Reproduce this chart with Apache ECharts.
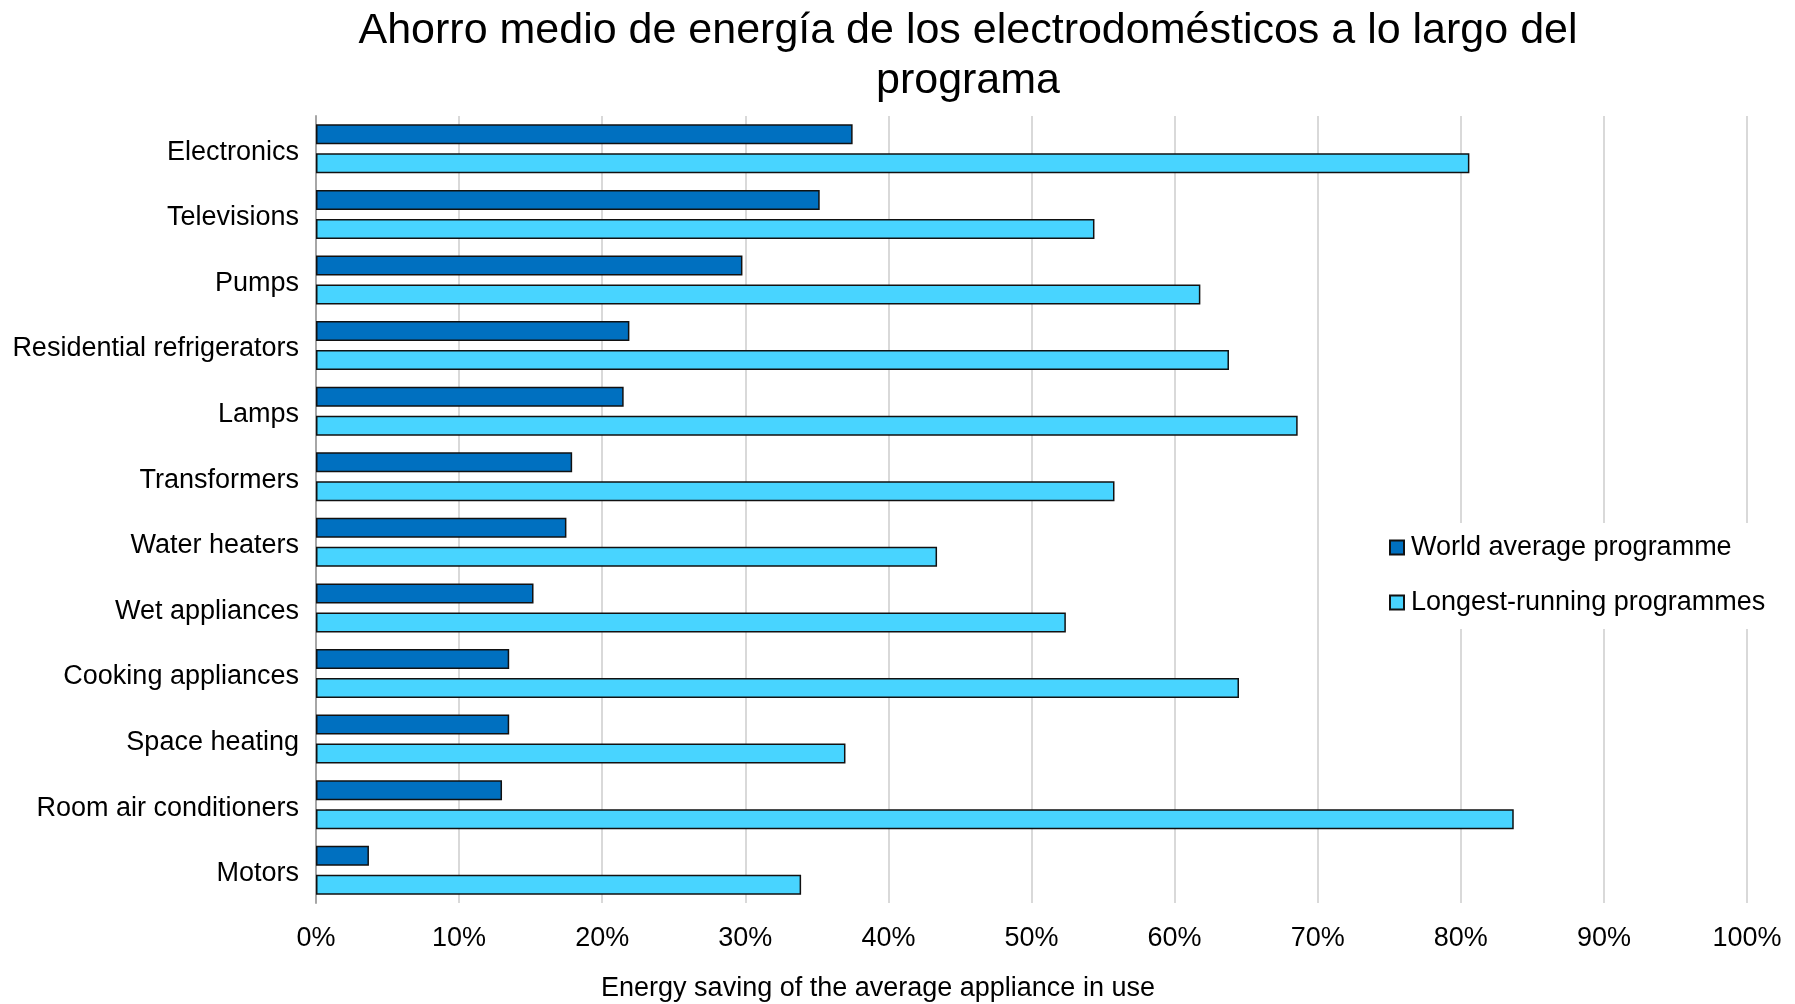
<!DOCTYPE html>
<html>
<head>
<meta charset="utf-8">
<script src="https://cdn.jsdelivr.net/npm/echarts@6/dist/echarts.min.js"></script>
<style>
  html, body { margin: 0; padding: 0; background: #fff; }
  #chart { width: 1795px; height: 1004px; }
</style>
</head>
<body>
<div id="chart"></div>
<script>
// Appliance categories, listed top to bottom
const categories = [
  'Electronics', 'Televisions', 'Pumps', 'Residential refrigerators', 'Lamps',
  'Transformers', 'Water heaters', 'Wet appliances', 'Cooking appliances',
  'Space heating', 'Room air conditioners', 'Motors'
];
// Average energy saving (%) per category
const worldAverage = [37.5, 35.2, 29.8, 21.9, 21.5, 17.9, 17.5, 15.2, 13.5, 13.5, 13.0, 3.7];
const longestRunning = [80.6, 54.4, 61.8, 63.8, 68.6, 55.8, 43.4, 52.4, 64.5, 37.0, 83.7, 33.9];
const seriesNames = ['World average programme', 'Longest-running programmes'];
const xTicks = [0, 10, 20, 30, 40, 50, 60, 70, 80, 90, 100];

const FONT = '"Liberation Sans", Arial, sans-serif';
const chart = echarts.init(document.getElementById('chart'), null, { renderer: 'canvas' });

chart.setOption({
  backgroundColor: '#ffffff',
  animation: false,
  textStyle: { fontFamily: FONT, color: '#000' },
  title: [
    {
      text: 'Ahorro medio de energía de los electrodomésticos a lo largo del\nprograma',
      left: 963, top: 1, textAlign: 'center',
      textStyle: { fontFamily: FONT, fontSize: 43, fontWeight: 'normal', color: '#000', lineHeight: 50 }
    },
    {
      text: 'Energy saving of the average appliance in use',
      left: 873, top: 970, textAlign: 'center',
      textStyle: { fontFamily: FONT, fontSize: 27, fontWeight: 'normal', color: '#000' }
    }
  ],
  legend: {
    data: seriesNames,
    orient: 'vertical',
    left: 1389, top: 523,
    itemWidth: 14, itemHeight: 14, itemGap: 28,
    icon: 'rect',
    backgroundColor: '#ffffff',
    padding: [11, 6, 13, 0],
    textStyle: { fontFamily: FONT, fontSize: 27, color: '#000', padding: [0, 0, 0, 2] }
  },
  grid: { left: 316, right: 48, top: 116, height: 787, containLabel: false },
  xAxis: {
    type: 'value', min: 0, max: 100, interval: 10,
    axisLine: { show: false },
    axisTick: { show: false },
    axisLabel: {
      fontFamily: FONT, fontSize: 27, color: '#000', margin: 22,
      formatter: v => (xTicks.includes(v) ? v + '%' : '')
    },
    splitLine: { show: true, lineStyle: { color: '#d9d9d9', width: 2 } }
  },
  yAxis: {
    type: 'category', data: categories, inverse: true,
    axisLine: { show: true, lineStyle: { color: '#a6a6a6', width: 2 } },
    axisTick: { show: false },
    axisLabel: {
      margin: 17,
      formatter: v => '{l|' + v + '}',
      rich: { l: { fontFamily: FONT, fontSize: 27, color: '#000', padding: [7, 0, 0, 0] } }
    }
  },
  series: [
    {
      name: seriesNames[0], type: 'bar', data: worldAverage,
      barWidth: 20, barGap: '45%',
      itemStyle: { color: '#0070c0', borderColor: '#111', borderWidth: 1.5 }
    },
    {
      name: seriesNames[1], type: 'bar', data: longestRunning,
      barWidth: 20, barGap: '45%',
      itemStyle: { color: '#48d4ff', borderColor: '#111', borderWidth: 1.5 }
    }
  ]
});
</script>
</body>
</html>
